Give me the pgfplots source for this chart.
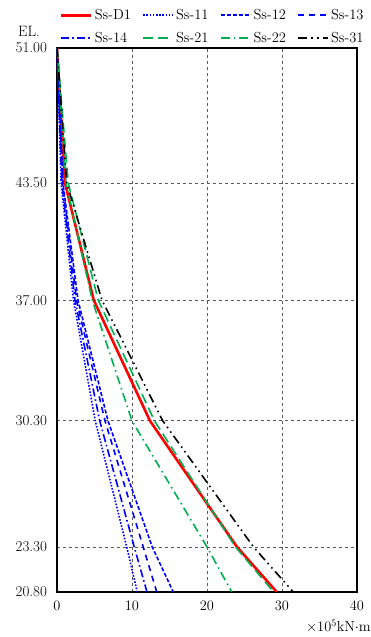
\documentclass[border=0pt]{standalone}
\usepackage{pgfplots}
\pgfplotsset{compat=1.18}
\definecolor{mygreen}{RGB}{0,176,80}
\begin{document}
\begin{tikzpicture}
\begin{axis}[
  name=ax, scale only axis, width=300pt, height=544pt,
  xmin=0, xmax=40, ymin=20.8, ymax=51,
  xtick={0,10,20,30,40},
  ytick={20.8,23.3,30.3,37,43.5,51},
  yticklabels={20.80,23.30,30.30,37.00,43.50,51.00},
  grid=major, major grid style={dashed, black!65, line width=0.8pt},
  major tick length=0pt,
  axis line style={line width=1.2pt},
  tick label style={font=\fontsize{15}{17}\selectfont},
  xticklabel style={yshift=-5.5pt},
  yticklabel style={xshift=-6.5pt},
  legend columns=4,
  legend cell align=left,
  legend image code/.code={\draw[#1] (0pt,0pt) -- (30pt,0pt);},
  legend style={at={(rel axis cs:0,1)}, anchor=south west, xshift=3pt, yshift=2pt,
    draw=none, fill=none, inner sep=0pt, font=\fontsize{14.5}{16}\selectfont,
    row sep=7pt,
    /tikz/every even column/.append style={column sep=9.5pt}},
]
\addplot[red, line width=2.6pt] coordinates {(0,51) (1.07,43.5) (4.9,37) (12.4,30.3) (24.0,23.3) (29.3,20.8)};
\addlegendentry{Ss-D1}
\addplot[color=blue, line width=1.6pt, dash pattern=on 1.6pt off 1.6pt] coordinates {(0,51) (0.55,43.5) (2.2,37) (5.1,30.3) (9.3,23.3) (10.7,20.8)};
\addlegendentry{Ss-11}
\addplot[color=blue, line width=1.6pt, dash pattern=on 4pt off 2pt] coordinates {(0,51) (0.8,43.5) (2.8,37) (6.8,30.3) (12.7,23.3) (15.5,20.8)};
\addlegendentry{Ss-12}
\addplot[color=blue, line width=1.6pt, dash pattern=on 6pt off 5pt] coordinates {(0,51) (0.75,43.5) (2.6,37) (6.4,30.3) (11.5,23.3) (13.3,20.8)};
\addlegendentry{Ss-13}
\addplot[color=blue, line width=1.6pt, dash pattern=on 8pt off 3pt on 1.6pt off 3pt] coordinates {(0,51) (0.65,43.5) (2.4,37) (5.7,30.3) (10.3,23.3) (12.0,20.8)};
\addlegendentry{Ss-14}
\addplot[color=mygreen, line width=1.6pt, dash pattern=on 10pt off 5pt] coordinates {(0,51) (1.5,43.5) (5.5,37) (13.0,30.3) (23.8,23.3) (28.9,20.8)};
\addlegendentry{Ss-21}
\addplot[color=mygreen, line width=1.6pt, dash pattern=on 9pt off 4pt on 1.6pt off 4pt] coordinates {(0,51) (1.2,43.5) (4.7,37) (10.0,30.3) (20.0,23.3) (23.3,20.8)};
\addlegendentry{Ss-22}
\addplot[color=black, line width=1.6pt, dash pattern=on 9pt off 4pt on 1.6pt off 4pt on 1.6pt off 4pt] coordinates {(0,51) (1.3,43.5) (6.0,37) (14.1,30.3) (26.2,23.3) (31.5,20.8)};
\addlegendentry{Ss-31}
\end{axis}
\node[font=\fontsize{15}{17}\selectfont] at ([xshift=-28pt,yshift=17pt]ax.north west) {EL.};
\node[anchor=east, font=\fontsize{14.5}{16}\selectfont, inner sep=0pt] at ([xshift=14pt,yshift=-34pt]ax.south east) {$\times10^5$kN$\cdot$m};
\pgfresetboundingbox
\path ([xshift=-57pt,yshift=-45pt]ax.south west) rectangle ([xshift=14pt,yshift=48pt]ax.north east);
\end{tikzpicture}
\end{document}
